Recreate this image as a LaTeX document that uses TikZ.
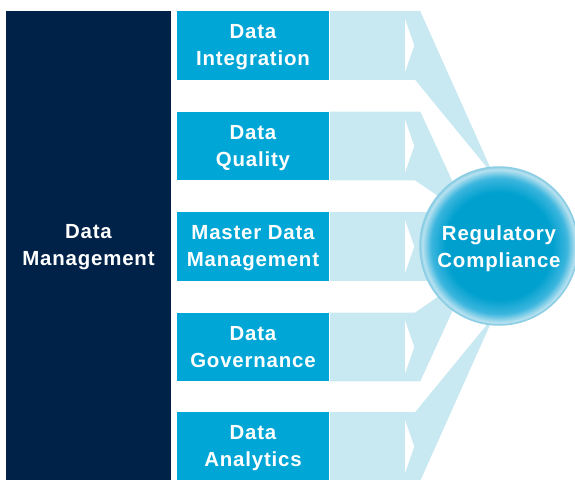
\documentclass[tikz,border=0pt]{standalone}
\usepackage{fontspec}
\newfontfamily\lab[LetterSpace=4]{Liberation Sans}
\usetikzlibrary{calc}

\definecolor{dmnavy}{RGB}{0,34,72}
\definecolor{boxblue}{RGB}{0,166,214}
\definecolor{bandlight}{RGB}{200,232,242}
\definecolor{rdeep}{RGB}{0,160,206}
\definecolor{rmid}{RGB}{60,182,222}
\definecolor{rpale}{RGB}{185,226,240}
\definecolor{redge}{RGB}{140,206,228}

\pgfdeclareradialshading{glow}{\pgfpoint{0bp}{0bp}}{%
  color(0bp)=(rdeep); color(17bp)=(rdeep); color(21.5bp)=(rmid);
  color(24.3bp)=(rpale); color(25bp)=(redge); color(50bp)=(redge)}

\begin{document}
\begin{tikzpicture}[x=1bp, y=-1bp,
    txt/.style={font=\lab\bfseries\fontsize{20.5}{27.5}\selectfont, text=white, align=center,
      inner sep=0pt, text height=42bp, text depth=4.5bp},
    bluebox/.style={txt, fill=boxblue, minimum width=152bp, minimum height=68.5bp},
    band/.style={fill=bandlight}]
            \useasboundingbox (0,0) rectangle (575,480);

            % Coluna principal
            \node[txt, fill=dmnavy, minimum width=165bp, minimum height=469bp] (dm) at (88.5,245.5) {};
            \node[txt] at (88.5,247.2) {Data\\Management};

            % Blocos
            \node[bluebox] (integ) at (253,45.5) {};
            \node[bluebox] (quality) at (253,146) {};
            \node[bluebox] (mdm) at (253,246.5) {};
            \node[bluebox] (govern) at (253,347) {};
            \node[bluebox] (analytics) at (253,446.5) {};
            \foreach \b/\t in {integ/Data\\Integration, quality/Data\\Quality, mdm/Master Data\\Management,
                               govern/Data\\Governance, analytics/Data\\Analytics}
              \node[txt] at ($(\b.center)+(0,1.7)$) {\t};

            \coordinate (rc) at (499,246);

            % Faixas
            \foreach \b/\tx/\bx/\ax/\ay in {integ/91/86/-5/-70, quality/91/86/-30/-29, mdm/131/131/-30/0, govern/86/91/-30/29, analytics/86/91/-5/70} {
              \fill[band] ($(\b.north east)+(1,0)$) -- ($(\b.north east)+(\tx,0)$) -- ($(rc)+(\ax,\ay)$)
                -- ($(\b.south east)+(\bx,0)$) -- ($(\b.south east)+(1,0)$) -- cycle;
              \fill[white] ($(\b.east)+(76,-26)$) -- ($(\b.east)+(85,0)$) -- ($(\b.east)+(76,26)$) -- cycle;
            }

            % Circulo
            \node[circle, minimum size=158bp, shading=glow, draw=redge, line width=1.5bp] (reg) at (rc) {};
            \node[txt] at ($(reg.center)+(0,3)$) {Regulatory\\Compliance};
        \end{tikzpicture}
\end{document}
